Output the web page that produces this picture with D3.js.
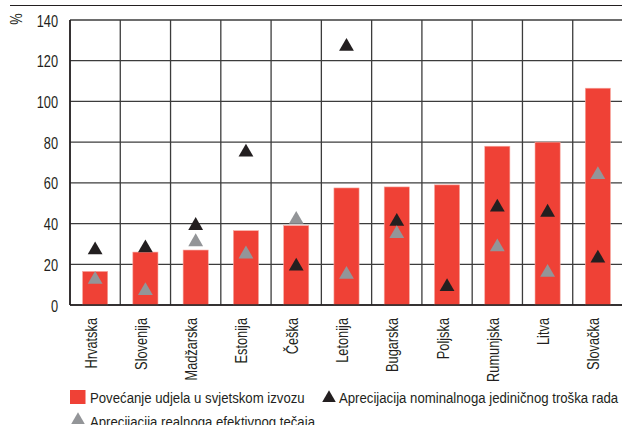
<!DOCTYPE html>
<html lang="hr">
<head>
<meta charset="utf-8">
<title>Udio u svjetskom izvozu</title>
<script src="https://d3js.org/d3.v7.min.js"></script>
<style>
  body { margin: 0; background: #fff; }
  text { font-family: "Liberation Sans", Arial, sans-serif; font-size: 16px; fill: #231f20; }
  text.leg { font-size: 15px; }
</style>
</head>
<body>
<script>
// data
var categories = ["Hrvatska", "Slovenija", "Madžarska", "Estonija", "Češka", "Letonija",
                  "Bugarska", "Poljska", "Rumunjska", "Litva", "Slovačka"];
var shareGrowth = [16.5, 26, 27, 36.5, 39, 57.5, 58, 59, 78, 80, 106.5];     // bars
var ulcAppreciation = [27, 28, 39, 75, 19, 127, 41, 9, 48, 45.5, 23];         // black triangles
var reerAppreciation = [12.5, 7, 31, 25, 42, 15, 35, null, 28.5, 16, 64];     // grey triangles
var yTicks = [0, 20, 40, 60, 80, 100, 120, 140];

var w = 622, h = 425;
var mLeft = 70, mTop = 20, mBottom = 305, mRight = 623;
var narrow = 0.8; // squeeze Liberation Sans to look like a narrow face

var svg = d3.select("body").append("svg")
  .attr("width", w)
  .attr("height", h);

var x = d3.scaleBand()
  .domain(categories)
  .range([mLeft, mRight]);

var y = d3.scaleLinear()
  .domain([0, 140])
  .range([mBottom, mTop]);

// little helper for squeezed text placed at (px, py), optionally rotated
function label(px, py, str, anchor, rot, sx) {
  return svg.append("text")
    .attr("transform", "translate(" + px + "," + py + ")" + (rot ? " rotate(" + rot + ")" : "") + " scale(" + (sx || narrow) + ",1)")
    .attr("text-anchor", anchor || "start")
    .text(str);
}

// thin rule above the chart
svg.append("line")
  .attr("x1", 10).attr("x2", w)
  .attr("y1", 5.5).attr("y2", 5.5)
  .attr("stroke", "#231f20").attr("stroke-width", 1);

// grid
svg.selectAll("line.hgrid")
  .data(yTicks)
  .enter().append("line")
  .attr("class", "hgrid")
  .attr("x1", mLeft).attr("x2", mRight)
  .attr("y1", function(d) { return y(d); })
  .attr("y2", function(d) { return y(d); })
  .attr("stroke", "#3c3c3c").attr("stroke-width", 1.3);

svg.selectAll("line.vgrid")
  .data(categories)
  .enter().append("line")
  .attr("class", "vgrid")
  .attr("x1", function(d) { return x(d); })
  .attr("x2", function(d) { return x(d); })
  .attr("y1", mTop).attr("y2", mBottom)
  .attr("stroke", "#3c3c3c").attr("stroke-width", 1.3);

// bars
var bw = x.bandwidth() * 0.5;
svg.selectAll("rect.bar")
  .data(shareGrowth)
  .enter().append("rect")
  .attr("class", "bar")
  .attr("x", function(d, i) { return x(categories[i]) + (x.bandwidth() - bw) / 2; })
  .attr("y", function(d) { return y(d); })
  .attr("width", bw)
  .attr("height", function(d) { return mBottom - y(d); })
  .attr("fill", "#ef4136")
  .attr("stroke", "#f7a9a0")
  .attr("stroke-width", 0.6);

// axis lines on top of bars
svg.append("line")
  .attr("x1", mLeft).attr("x2", mRight)
  .attr("y1", mBottom).attr("y2", mBottom)
  .attr("stroke", "#231f20").attr("stroke-width", 1.6);
svg.append("line")
  .attr("x1", mLeft).attr("x2", mLeft)
  .attr("y1", mTop).attr("y2", mBottom)
  .attr("stroke", "#231f20").attr("stroke-width", 1.6);

// triangles
var tri = d3.symbol().type(d3.symbolTriangle).size(95);
var triLeg = d3.symbol().type(d3.symbolTriangle).size(80);

svg.selectAll("path.ulc")
  .data(ulcAppreciation)
  .enter().append("path")
  .attr("class", "ulc")
  .attr("d", tri)
  .attr("transform", function(d, i) {
    return "translate(" + (x(categories[i]) + x.bandwidth() / 2) + "," + y(d) + ")";
  })
  .attr("fill", "#231f20");

svg.selectAll("path.reer")
  .data(reerAppreciation.map(function(d, i) { return { v: d, c: categories[i] }; })
        .filter(function(d) { return d.v !== null; }))
  .enter().append("path")
  .attr("class", "reer")
  .attr("d", tri)
  .attr("transform", function(d) {
    return "translate(" + (x(d.c) + x.bandwidth() / 2) + "," + y(d.v) + ")";
  })
  .attr("fill", "#939598");

// y labels
yTicks.forEach(function(d) {
  label(58, y(d) + 6.5, d, "end");
});
label(22, 19, "%", "middle", -90);

// x labels, reading bottom to top
categories.forEach(function(d) {
  label(x(d) + x.bandwidth() / 2 + 1.5, 318, d, "end", -90);
});

// legend
svg.append("rect")
  .attr("x", 70).attr("y", 390)
  .attr("width", 15.5).attr("height", 14)
  .attr("fill", "#ef4136");
label(90, 403, "Povećanje udjela u svjetskom izvozu", null, null, 0.88).attr("class", "leg");

svg.append("path")
  .attr("d", triLeg)
  .attr("transform", "translate(329,398)")
  .attr("fill", "#231f20");
label(339, 403, "Aprecijacija nominalnoga jediničnog troška rada", null, null, 0.88).attr("class", "leg");

svg.append("path")
  .attr("d", triLeg)
  .attr("transform", "translate(78,420)")
  .attr("fill", "#939598");
label(90, 427, "Aprecijacija realnoga efektivnog tečaja", null, null, 0.88).attr("class", "leg");
</script>
</body>
</html>
